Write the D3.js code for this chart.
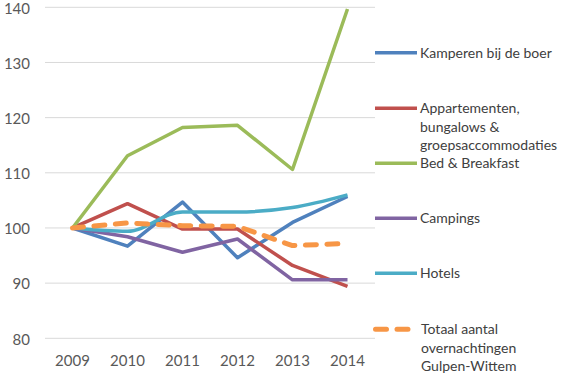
<!DOCTYPE html>
<html>
<head>
<meta charset="utf-8">
<script src="https://cdn.jsdelivr.net/npm/d3@7"></script>
<style>
  body { margin: 0; background: #fff; }
  text { font-family: Lato, "Open Sans", sans-serif; }
</style>
</head>
<body>
<div id="chart"></div>
<script>
// data (index, 2009 = 100)
const years = ["2009", "2010", "2011", "2012", "2013", "2014"];
const yTicks = [80, 90, 100, 110, 120, 130, 140];
const kamperen = [100, 96.7, 104.7, 94.6, 101.0, 105.7];
const appartementen = [100, 104.4, 99.8, 99.8, 93.2, 89.4];
const bedBreakfast = [100, 113.1, 118.2, 118.6, 110.6, 139.7];
const campings = [100, 98.4, 95.6, 98.0, 90.6, 90.6];
const hotels = [100, 99.4, 102.9, 102.9, 103.7, 106.0];
const totaal = [100, 100.9, 100.4, 100.3, 96.8, 97.2];

const series = [
  {name: ["Kamperen bij de boer"], values: kamperen, color: "#4F81BD"},
  {name: ["Appartementen,", "bungalows &", "groepsaccommodaties"], values: appartementen, color: "#C0504D"},
  {name: ["Bed & Breakfast"], values: bedBreakfast, color: "#9BBB59"},
  {name: ["Campings"], values: campings, color: "#8064A2"},
  {name: ["Hotels"], values: hotels, color: "#4BACC6", smooth: true},
  {name: ["Totaal aantal", "overnachtingen", "Gulpen-Wittem"], values: totaal, color: "#F79646", dashed: true}
];

const width = 569, height = 375;
const plot = {left: 45, right: 375, top: 7.3, bottom: 338.3};

const svg = d3.select("#chart")
  .append("svg")
    .attr("width", width)
    .attr("height", height);

const x = d3.scaleBand()
  .domain(years)
  .range([plot.left, plot.right]);

const y = d3.scaleLinear()
  .domain([80, 140])
  .range([plot.bottom, plot.top]);

// horizontal grid
svg.append("g")
  .selectAll("line")
  .data(yTicks)
  .join("line")
    .attr("x1", plot.left)
    .attr("x2", plot.right)
    .attr("y1", d => y(d))
    .attr("y2", d => y(d))
    .attr("stroke", "#d9d9d9")
    .attr("stroke-width", 1);

// y axis labels
svg.append("g")
  .attr("transform", `translate(${plot.left - 15}, 1)`)
  .call(d3.axisLeft(y).tickValues(yTicks).tickSize(0).tickPadding(0))
  .call(g => g.select(".domain").remove())
  .call(g => g.selectAll("text")
    .attr("fill", "#595959")
    .style("font-size", "15px")
    .style("font-family", "Lato, sans-serif"));

// x axis labels
svg.append("g")
  .attr("transform", `translate(0, ${plot.bottom})`)
  .call(d3.axisBottom(x).tickSize(0).tickPadding(17))
  .call(g => g.select(".domain").remove())
  .call(g => g.selectAll("text")
    .attr("fill", "#595959")
    .style("font-size", "15px")
    .style("font-family", "Lato, sans-serif"));

// lines
const cx = (d, i) => x(years[i]) + x.bandwidth() / 2;
series.forEach(s => {
  const line = d3.line()
    .x(cx)
    .y(d => y(d))
    .curve(s.smooth ? d3.curveMonotoneX : d3.curveLinear);
  svg.append("path")
    .datum(s.values)
    .attr("fill", "none")
    .attr("stroke", s.color)
    .attr("stroke-width", s.dashed ? 5 : 3.5)
    .attr("stroke-linejoin", "round")
    .attr("stroke-linecap", s.dashed ? "round" : "butt")
    .attr("stroke-dasharray", s.dashed ? "11,10.5" : null)
    .attr("d", line);
});

// legend
const legendY = [52.7, 108.3, 163.3, 218.3, 273.3, 329.3];
const legend = svg.append("g");
series.forEach((s, i) => {
  const g = legend.append("g").attr("transform", `translate(375, ${legendY[i]})`);
  g.append("line")
    .attr("x1", s.dashed ? 0.5 : 0)
    .attr("x2", s.dashed ? 37 : 42)
    .attr("stroke", s.color)
    .attr("stroke-width", s.dashed ? 5 : 3.5)
    .attr("stroke-linecap", s.dashed ? "round" : "butt")
    .attr("stroke-dasharray", s.dashed ? "11,10.5" : null);
  g.selectAll("text")
    .data(s.name)
    .join("text")
      .attr("x", s.dashed ? 46 : 45)
      .attr("y", (d, j) => j * 18.5)
      .attr("dy", "0.35em")
      .attr("fill", "#404040")
      .style("font-size", "14px")
      .text(d => d);
});
</script>
</body>
</html>
